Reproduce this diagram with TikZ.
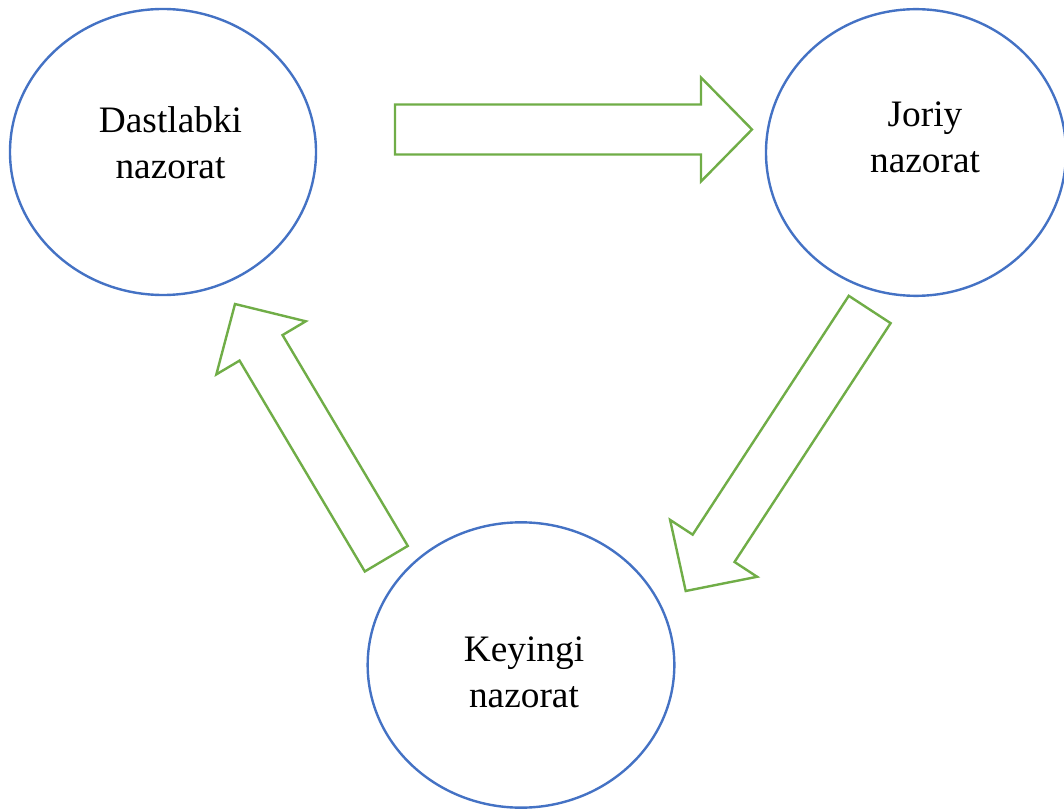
\documentclass[tikz,border=0pt]{standalone}
\usepackage{fontspec}
\setmainfont{Liberation Serif}
\usetikzlibrary{shapes.geometric,calc}
\definecolor{ovalblue}{HTML}{4472C4}
\definecolor{arrgreen}{HTML}{70AD47}
\tikzset{
  oval/.style={ellipse, draw=ovalblue, line width=1.8pt, inner sep=0pt},
  lbl/.style={align=center, anchor=base, inner sep=0pt, font=\fontsize{28}{34.5}\selectfont},
  blockarr/.style={draw=arrgreen, line width=1.8pt, line join=miter, fill=white}
}
\newcommand\myblockarrow[2]{%
  \coordinate (#1h) at ($(#2)!38.25pt!(#1)$);
  \draw[blockarr] ($(#1)!18.75pt!90:(#2)$) -- ($(#1h)!18.75pt!90:(#2)$) -- ($(#1h)!39pt!90:(#2)$)
    -- (#2) -- ($(#1h)!39pt!-90:(#2)$) -- ($(#1h)!18.75pt!-90:(#2)$) -- ($(#1)!18.75pt!-90:(#2)$) -- cycle;
}
\begin{document}
\begin{tikzpicture}[x=0.75pt,y=-0.75pt]
\useasboundingbox (0,0) rectangle (1064,809);
\node[oval, minimum width=229.5pt, minimum height=214.5pt] (dast) at (163,152) {};
\node[oval, minimum width=225pt, minimum height=215pt] (jor) at (916,152.5) {};
\node[oval, minimum width=230pt, minimum height=214pt] (key) at (521,665) {};
\node[lbl] (tdast) at (170.5,179) {Dastlabki\\nazorat};
\node[lbl] (tjor) at (925,173) {Joriy\\nazorat};
\node[lbl] (tkey) at (524,707) {Keyingi\\nazorat};
\coordinate (a1s) at (395,129.5);
\coordinate (a1e) at (752,129.5);
\coordinate (a2s) at (869.7,309.5);
\coordinate (a2e) at (685.7,591);
\coordinate (a3s) at (386.3,558.7);
\coordinate (a3e) at (235,304);
\myblockarrow{a1s}{a1e}
\myblockarrow{a2s}{a2e}
\myblockarrow{a3s}{a3e}
\end{tikzpicture}
\end{document}
